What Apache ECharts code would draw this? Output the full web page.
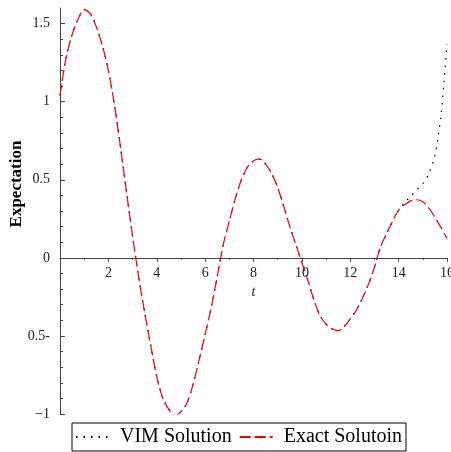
<!DOCTYPE html>
<html>
<head>
<meta charset="utf-8">
<script src="https://cdn.jsdelivr.net/npm/echarts@6/dist/echarts.min.js"></script>
<style>
  html, body { margin: 0; padding: 0; background: #fff; }
  #chart { width: 451px; height: 452px; }
</style>
</head>
<body>
<div id="chart"></div>
<script>
// t samples (every 0.25)
const tValues = [
  0, 0.25, 0.5, 0.75, 1, 1.25, 1.5, 1.75, 2, 2.25, 2.5, 2.75, 3, 3.25, 3.5, 3.75,
  4, 4.25, 4.5, 4.75, 5, 5.25, 5.5, 5.75, 6, 6.25, 6.5, 6.75, 7, 7.25, 7.5, 7.75,
  8, 8.25, 8.5, 8.75, 9, 9.25, 9.5, 9.75, 10, 10.25, 10.5, 10.75, 11, 11.25, 11.5, 11.75,
  12, 12.25, 12.5, 12.75, 13, 13.25, 13.5, 13.75, 14, 14.25, 14.5, 14.75, 15, 15.25, 15.5, 15.75, 16
]
const exactValues = [
  1.04, 1.28, 1.43, 1.53, 1.59, 1.565, 1.48, 1.36, 1.2, 0.98, 0.71, 0.42, 0.14, -0.12, -0.35, -0.56,
  -0.76, -0.9, -0.97, -1.01, -0.985, -0.93, -0.81, -0.655, -0.49, -0.32, -0.12, 0.085, 0.235, 0.38, 0.5, 0.58,
  0.622, 0.632, 0.6, 0.54, 0.45, 0.33, 0.2, 0.085, -0.03, -0.145, -0.27, -0.37, -0.425, -0.455, -0.466, -0.44,
  -0.39, -0.335, -0.26, -0.17, -0.06, 0.07, 0.155, 0.235, 0.305, 0.34, 0.365, 0.372, 0.36, 0.32, 0.26, 0.195, 0.125
]
// VIM follows the exact curve up to t = 14, then bends away
const vimTailT = [14, 14.25, 14.5, 14.75, 15, 15.25, 15.5, 15.625, 15.75, 15.875, 16]
const vimTailValues = [0.305, 0.355, 0.395, 0.435, 0.475, 0.54, 0.655, 0.77, 0.91, 1.12, 1.37]

const yMajorTicks = [-1, -0.5, 0, 0.5, 1, 1.5]
const yTickLabels = ['\u22121', '0.5-', '0', '0.5', '1', '1.5']
const yMinorTicks = [
  -1, -0.9, -0.8, -0.7, -0.6, -0.5, -0.4, -0.3, -0.2, -0.1, 0, 0.1, 0.2,
  0.3, 0.4, 0.5, 0.6, 0.7, 0.8, 0.9, 1, 1.1, 1.2, 1.3, 1.4, 1.5
]
const yMin = -1
const yMax = 1.6

const serif = '"Liberation Serif", "DejaVu Serif", serif'
const axisColor = '#444'

const gridTop = 8
const gridBottom = 38
const gridHeight = 452 - gridTop - gridBottom
// x axis sits on y = 0, lifted up from the grid bottom
const xAxisLift = gridHeight * (0 - yMin) / (yMax - yMin)

const exactData = tValues.map((t, i) => [t, exactValues[i]])
const vimData = tValues
  .map((t, i) => [t, exactValues[i]])
  .filter(p => p[0] < vimTailT[0])
  .concat(vimTailT.map((t, i) => [t, vimTailValues[i]]))

const chart = echarts.init(document.getElementById('chart'), null, { renderer: 'canvas' })
const option = {
  animation: false,
  backgroundColor: '#fff',
  grid: { left: 60, right: 4, top: gridTop, bottom: gridBottom, outerBoundsMode: 'none', containLabel: false },
  xAxis: {
    type: 'value',
    min: 0,
    max: 16,
    interval: 2,
    position: 'bottom',
    offset: -xAxisLift,
    name: 't',
    nameLocation: 'middle',
    nameGap: 27,
    nameTextStyle: { fontFamily: serif, fontStyle: 'italic', fontSize: 14, color: '#222' },
    axisLine: { onZero: false, lineStyle: { color: axisColor, width: 1 } },
    axisTick: { length: 4, lineStyle: { color: axisColor } },
    minorTick: { show: true, splitNumber: 2, length: 2, lineStyle: { color: axisColor } },
    axisLabel: {
      margin: 8,
      fontFamily: serif,
      fontSize: 14,
      color: '#222',
      formatter: v => (v === 0 ? '' : String(v))
    },
    splitLine: { show: false }
  },
  yAxis: [
    {
      type: 'value',
      min: yMin,
      max: yMax,
      axisLine: { show: true, onZero: false, lineStyle: { color: axisColor, width: 1 } },
      axisTick: { show: true, inside: true, length: 5, customValues: yMajorTicks, lineStyle: { color: axisColor } },
      axisLabel: {
        margin: 10,
        fontFamily: serif,
        fontSize: 14,
        color: '#222',
        customValues: yMajorTicks,
        formatter: v => {
          const i = yMajorTicks.findIndex(m => Math.abs(m - v) < 1e-9)
          return i >= 0 ? yTickLabels[i] : ''
        }
      },
      splitLine: { show: false }
    },
    {
      type: 'value',
      min: yMin,
      max: yMax,
      position: 'left',
      axisLine: { show: false, onZero: false },
      axisTick: { show: true, inside: true, length: 3, customValues: yMinorTicks, lineStyle: { color: axisColor } },
      axisLabel: { show: false },
      splitLine: { show: false }
    }
  ],
  legend: {
    left: 72,
    top: 423,
    orient: 'horizontal',
    itemWidth: 33,
    itemHeight: 14,
    itemGap: 7,
    padding: [4, 4, 4, 3],
    borderColor: '#000',
    borderWidth: 1,
    itemStyle: { opacity: 0 },
    textStyle: { fontFamily: serif, fontSize: 20, color: '#000', padding: [0, 0, 0, 6] },
    data: ['VIM Solution', 'Exact Solutoin']
  },
  graphic: [
    {
      type: 'text',
      x: 17,
      y: 184,
      rotation: Math.PI / 2,
      style: {
        text: 'Expectation',
        fontFamily: serif,
        fontWeight: 'bold',
        fontSize: 17,
        fill: '#000',
        align: 'center',
        verticalAlign: 'middle'
      }
    }
  ],
  series: [
    {
      name: 'VIM Solution',
      type: 'line',
      data: vimData,
      smooth: 0.3,
      symbol: 'none',
      lineStyle: { color: '#000', width: 1.2, type: [1.5, 6] },
      itemStyle: { color: '#000' }
    },
    {
      name: 'Exact Solutoin',
      type: 'line',
      data: exactData,
      smooth: 0.3,
      symbol: 'none',
      lineStyle: { color: '#ff0000', width: 1.2, type: [11, 4] },
      itemStyle: { color: '#ff0000' }
    }
  ]
}
chart.setOption(option)
</script>
</body>
</html>
